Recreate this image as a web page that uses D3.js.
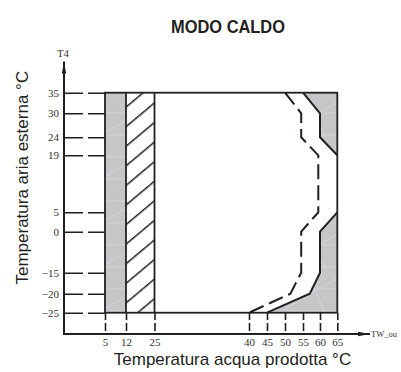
<!DOCTYPE html>
<html><head><meta charset="utf-8">
<script src="https://cdn.jsdelivr.net/npm/d3@7"></script>
<style>
html,body{margin:0;padding:0;background:#fff;}
svg{display:block;}
</style></head>
<body>
<svg id="c" width="401" height="372"></svg>
<script>
// ---- data ----
const title = "MODO CALDO";
const xLabel = "Temperatura acqua prodotta °C";
const yLabel = "Temperatura aria esterna °C";
const xAxisName = "TW_ou";
const yAxisName = "T4";
const xTicks = [5, 12, 25, 40, 45, 50, 55, 60, 65];
const yTicks = [35, 30, 24, 19, 5, 0, -15, -20, -25];
// operating envelope
const envelopeX = [5, 65];
const envelopeY = [-25, 35];
const grayBandX = [5, 12];
const hatchBandX = [12, 25];
// solid limit (upper and lower branches)
const solidUpper = [[55, 35], [60, 30], [60, 24], [65, 19]];
const solidLower = [[65, 5], [60, 0], [60, -15], [57, -20], [45, -25]];
// dashed limit
const dashedLimit = [[50, 35], [54.5, 30], [54.5, 24], [59.5, 19], [59.5, 5], [54.5, 0], [54.5, -15], [51.5, -20], [40, -25]];

// ---- scales (schematic, piecewise) ----
const x = d3.scaleLinear().domain(xTicks).range([105, 126, 154.5, 249, 267, 285, 303, 320, 337.3]);
const y = d3.scaleLinear().domain(yTicks).range([92.7, 113.3, 137.3, 155.3, 212.3, 231.7, 272.7, 293.7, 312.7]);

const axisX0 = 64, axisY0 = 334;
const ink = "#231f20";
const gray = "#c6c6c8";

const svg = d3.select("#c");
const defs = svg.append("defs");

// hatch pattern
const hp = defs.append("pattern").attr("id", "hatch")
  .attr("patternUnits", "userSpaceOnUse")
  .attr("width", 40).attr("height", 15)
  .attr("patternTransform", `translate(${x(12) + 10.5},${y(-25)}) rotate(-40)`);
hp.append("line").attr("x1", 0).attr("x2", 40).attr("y1", 0).attr("y2", 0)
  .attr("stroke", ink).attr("stroke-width", 3.2);

// faint texture for gray areas
const gp = defs.append("pattern").attr("id", "grayTex")
  .attr("patternUnits", "userSpaceOnUse").attr("width", 60).attr("height", 44)
  .attr("patternTransform", `translate(${x(5)},${y(35)})`);
gp.append("rect").attr("width", 60).attr("height", 44).attr("fill", gray);
gp.append("path").attr("d", "M0,20 L60,20 M0,42 L60,42 M20,0 L40,44 M60,5 L0,40")
  .attr("stroke", "#ffffff").attr("stroke-opacity", 0.35).attr("stroke-width", 0.8).attr("fill", "none");

// arrow markers
defs.append("marker").attr("id", "arr").attr("viewBox", "0 0 12 6")
  .attr("refX", 12).attr("refY", 3).attr("markerWidth", 12).attr("markerHeight", 6)
  .attr("markerUnits", "userSpaceOnUse").attr("orient", "auto")
  .append("path").attr("d", "M0,0.8 L12,3 L0,5.2 Z").attr("fill", ink);

// ---- title ----
svg.append("text").attr("x", 228).attr("y", 33).attr("text-anchor", "middle")
  .attr("font-family", "Liberation Sans, Arial, sans-serif").attr("font-weight", "bold")
  .attr("font-size", 19).attr("textLength", 114).attr("lengthAdjust", "spacingAndGlyphs")
  .attr("fill", ink).text(title);

// ---- fills ----
const line = d3.line().x(d => x(d[0])).y(d => y(d[1]));
svg.append("rect").attr("x", x(grayBandX[0])).attr("y", y(envelopeY[1]))
  .attr("width", x(grayBandX[1]) - x(grayBandX[0])).attr("height", y(envelopeY[0]) - y(envelopeY[1]))
  .attr("fill", "url(#grayTex)");
svg.append("rect").attr("x", x(hatchBandX[0])).attr("y", y(envelopeY[1]))
  .attr("width", x(hatchBandX[1]) - x(hatchBandX[0])).attr("height", y(envelopeY[0]) - y(envelopeY[1]))
  .attr("fill", "url(#hatch)");
svg.append("path").attr("d", line(solidUpper.concat([[65, 35]])) + "Z").attr("fill", "url(#grayTex)");
svg.append("path").attr("d", line(solidLower.concat([[65, -25]])) + "Z").attr("fill", "url(#grayTex)");

// ---- axes with dashed guide ticks ----
const yAxis = d3.axisLeft(y).tickValues(yTicks).tickSize(-(x(5) - axisX0)).tickPadding(5);
const gy = svg.append("g").attr("transform", `translate(${axisX0},0)`).call(yAxis);
gy.select(".domain").remove();
gy.selectAll(".tick line").attr("stroke", ink).attr("stroke-width", 1.6).attr("stroke-dasharray", "19,5");
gy.selectAll(".tick text").attr("font-family", "Liberation Serif, Times New Roman, serif")
  .attr("font-size", 11).attr("fill", "#333");

const xAxis = d3.axisBottom(x).tickValues(xTicks).tickSize(-(axisY0 - y(-25))).tickPadding(4);
const gx = svg.append("g").attr("transform", `translate(0,${axisY0})`).call(xAxis);
gx.select(".domain").remove();
gx.selectAll(".tick line").attr("stroke", ink).attr("stroke-width", 1.6).attr("stroke-dasharray", "0,3,8,3,8");
gx.selectAll(".tick text").attr("font-family", "Liberation Serif, Times New Roman, serif")
  .attr("font-size", 11).attr("fill", "#333");

// axis lines with arrows
svg.append("line").attr("x1", axisX0).attr("y1", axisY0 + 1).attr("x2", axisX0).attr("y2", 61.5)
  .attr("stroke", ink).attr("stroke-width", 2).attr("marker-end", "url(#arr)");
svg.append("line").attr("x1", axisX0 - 1).attr("y1", axisY0).attr("x2", 370).attr("y2", axisY0)
  .attr("stroke", ink).attr("stroke-width", 2).attr("marker-end", "url(#arr)");

svg.append("text").attr("x", 63).attr("y", 57).attr("text-anchor", "middle")
  .attr("font-family", "Liberation Serif, Times New Roman, serif").attr("font-size", 11)
  .attr("fill", "#333").text(yAxisName);
svg.append("text").attr("x", 371).attr("y", 337)
  .attr("font-family", "Liberation Serif, Times New Roman, serif").attr("font-size", 8.5)
  .attr("fill", "#333").text(xAxisName);

// ---- envelope outlines ----
const bx0 = x(envelopeX[0]), bx1 = x(envelopeX[1]), by0 = y(envelopeY[1]), by1 = y(envelopeY[0]);
svg.append("rect").attr("x", bx0).attr("y", by0).attr("width", bx1 - bx0).attr("height", by1 - by0)
  .attr("fill", "none").attr("stroke", ink).attr("stroke-width", 1.8);
[grayBandX[1], hatchBandX[1]].forEach(v => {
  svg.append("line").attr("x1", x(v)).attr("x2", x(v)).attr("y1", by0).attr("y2", by1)
    .attr("stroke", ink).attr("stroke-width", 1.8);
});

// limit lines
svg.append("path").attr("d", line(solidUpper)).attr("fill", "none").attr("stroke", ink).attr("stroke-width", 2);
svg.append("path").attr("d", line(solidLower)).attr("fill", "none").attr("stroke", ink).attr("stroke-width", 2);
svg.append("path").attr("d", line(dashedLimit)).attr("fill", "none").attr("stroke", ink)
  .attr("stroke-width", 2).attr("stroke-dasharray", "15,6");

// ---- axis titles ----
svg.append("text").attr("x", 232.5).attr("y", 365).attr("text-anchor", "middle")
  .attr("font-family", "Liberation Sans, Arial, sans-serif").attr("font-size", 17)
  .attr("fill", ink).text(xLabel);
svg.append("text").attr("transform", "translate(28,177.7) rotate(-90)").attr("text-anchor", "middle")
  .attr("font-family", "Liberation Sans, Arial, sans-serif").attr("font-size", 17)
  .attr("fill", ink).text(yLabel);
</script>
</body></html>
